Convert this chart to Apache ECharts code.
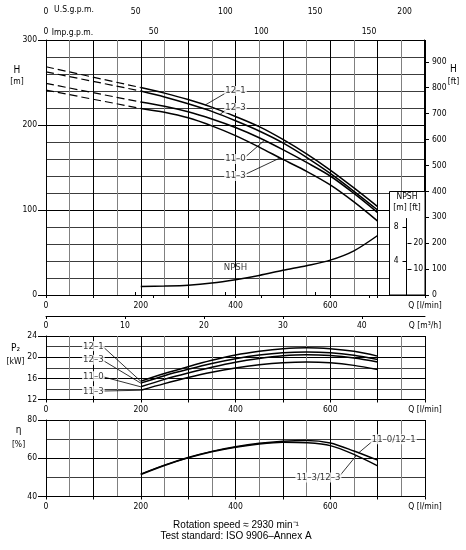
<!DOCTYPE html>
<html>
<head>
<meta charset="utf-8">
<script src="https://cdn.jsdelivr.net/npm/echarts@6/dist/echarts.min.js"></script>
<style>
html, body { margin: 0; padding: 0; background: #fff; }
#chart { width: 466px; height: 550px; }
</style>
</head>
<body>
<div id="chart"></div>
<script>
// flow points (l/min) of the measured curves
var flow = [200, 250, 300, 350, 400, 450, 500, 550, 600, 650, 700];

// head H [m]
var head121 = [244, 237.5, 230, 221, 210, 198, 183, 166, 147, 126, 104];
var head123 = [240, 233, 225, 216, 205, 193, 179, 162, 143, 122, 100];
var head110 = [227, 222, 215.5, 207, 197, 185, 171, 156, 140, 119.5, 97];
var head113 = [219.5, 215, 208.5, 199, 187.5, 174, 159.5, 145.5, 129.5, 109.5, 87];
// dashed part: head at Q = 0 (joins the first point above)
var headAtZero = [268.5, 262.5, 249, 241];

// NPSH [m]
var npsh = [1.0, 1.05, 1.15, 1.4, 1.8, 2.3, 2.9, 3.45, 4.1, 5.2, 7.0];

// power P2 [kW]
var p2_121 = [15.45, 16.9, 18.2, 19.4, 20.4, 21.1, 21.6, 21.8, 21.6, 21.1, 20.2];
var p2_123 = [15.1, 16.5, 17.7, 18.8, 19.7, 20.4, 20.85, 21.0, 20.85, 20.35, 19.55];
var p2_110 = [14.4, 15.8, 17.0, 18.1, 19.05, 19.75, 20.25, 20.45, 20.3, 19.85, 19.1];
var p2_113 = [13.75, 15.0, 16.15, 17.15, 17.95, 18.55, 18.95, 19.1, 18.95, 18.45, 17.65];

// efficiency [%]
var etaUpper = [51.7, 56.4, 60.4, 63.6, 66.0, 67.8, 68.9, 69.3, 68.0, 63.8, 59.0];
var etaLower = [51.5, 56.2, 60.2, 63.4, 65.8, 67.5, 68.4, 68.1, 66.6, 62.0, 56.0];

// tick labels
var flowLabels = [0, 200, 400, 600];
var hLabels = [0, 100, 200, 300];
var ftLabels = [0, 100, 200, 300, 400, 500, 600, 700, 800, 900];
var usgpmLabels = [0, 50, 100, 150, 200];
var impLabels = [0, 50, 100, 150];
var m3hLabels = [0, 10, 20, 30, 40];
var p2Labels = [12, 16, 20, 24];
var etaLabels = [40, 60, 80];
var npshMLabels = [4, 8];
var npshFtLabels = [10, 20];

// unit factors
var L_PER_USGAL = 3.785411784, L_PER_IMPGAL = 4.54609, M_PER_FT = 0.3048;
var QMAX = 800;

var FONT = "'Liberation Sans Narrow', 'DejaVu Sans Condensed', sans-serif";

function zip(xs, ys) {
    var out = [];
    for (var i = 0; i < xs.length; i++) out.push([xs[i], ys[i]]);
    return out;
}
// value of a curve at q (only used to end the leader lines on the curve)
function curveAt(ys, q) {
    for (var i = 0; i < flow.length - 1; i++) {
        if (q >= flow[i] && q <= flow[i + 1]) {
            var t = (q - flow[i]) / (flow[i + 1] - flow[i]);
            return ys[i] + t * (ys[i + 1] - ys[i]);
        }
    }
    return ys[ys.length - 1];
}

function axisLabel(values, margin, fmt, extra) {
    var l = { customValues: values, margin: margin, fontFamily: FONT, fontSize: 8.5, color: '#000' };
    if (fmt) l.formatter = fmt;
    for (var k in extra || {}) l[k] = extra[k];
    return l;
}
function flowAxis(g) {
    return {
        type: 'value', gridIndex: g, min: 0, max: QMAX, interval: 100, position: 'bottom',
        axisLine: { show: true, onZero: false, lineStyle: { color: '#000', width: 1 } },
        axisTick: { show: true, length: 3, lineStyle: { color: '#000' } },
        axisLabel: axisLabel(flowLabels.concat([QMAX]), 6, function (v) { return v === QMAX ? 'Q [l/min]' : v; }),
        splitLine: { show: true, lineStyle: { color: '#000', width: 1 } },
        minorTick: { show: false, splitNumber: 2 },
        minorSplitLine: { show: true, lineStyle: { color: '#808080', width: 1 } }
    };
}
function valueAxis(g, min, max, interval, labels, minorSplit) {
    return {
        type: 'value', gridIndex: g, min: min, max: max, interval: interval, position: 'left',
        axisLine: { show: true, onZero: false, lineStyle: { color: '#000', width: 1 } },
        axisTick: { show: true, length: 8, lineStyle: { color: '#000' } },
        axisLabel: axisLabel(labels, 9),
        splitLine: { show: true, lineStyle: { color: '#000', width: 1 } },
        minorTick: { show: false, splitNumber: minorSplit },
        minorSplitLine: { show: true, lineStyle: { color: '#3c3c3c', width: 1 } }
    };
}

function curve(name, xi, yi, ys) {
    return {
        type: 'line', name: name, xAxisIndex: xi, yAxisIndex: yi, data: zip(flow, ys),
        showSymbol: false, smooth: 0.3, silent: true, z: 3,
        lineStyle: { color: '#000', width: 1.5 }
    };
}
function dashed(xi, yi, y0, y1) {
    return {
        type: 'line', xAxisIndex: xi, yAxisIndex: yi, data: [[0, y0], [flow[0], y1]],
        showSymbol: false, silent: true, z: 3,
        lineStyle: { color: '#000', width: 1.2, type: [8, 4] }
    };
}
// label with white background plus a thin leader to the curve
function note(xi, yi, text, at, from, ys, q, bg) {
    var list = [];
    if (ys) {
        list.push({
            type: 'line', xAxisIndex: xi, yAxisIndex: yi, silent: true, z: 4,
            data: [from, [q, curveAt(ys, q)]], showSymbol: false,
            lineStyle: { color: '#000', width: 0.8 }
        });
    }
    list.push({
        type: 'scatter', xAxisIndex: xi, yAxisIndex: yi, silent: true, z: 5,
        symbolSize: 1, itemStyle: { color: 'rgba(0,0,0,0)' },
        data: [at],
        label: {
            show: true, position: 'inside', formatter: text,
            fontFamily: FONT, fontSize: 9.5, color: '#000',
            backgroundColor: bg === false ? 'transparent' : '#fff', padding: [0, 1]
        }
    });
    return list;
}

var series = [
    curve('12–1', 0, 0, head121), curve('12–3', 0, 0, head123),
    curve('11–0', 0, 0, head110), curve('11–3', 0, 0, head113),
    dashed(0, 0, headAtZero[0], head121[0]), dashed(0, 0, headAtZero[1], head123[0]),
    dashed(0, 0, headAtZero[2], head110[0]), dashed(0, 0, headAtZero[3], head113[0]),
    curve('NPSH', 0, 6, npsh),
    curve('12–1', 3, 2, p2_121), curve('12–3', 3, 2, p2_123),
    curve('11–0', 3, 2, p2_110), curve('11–3', 3, 2, p2_113),
    curve('11–0/12–1', 5, 3, etaUpper), curve('11–3/12–3', 5, 3, etaLower)
];
series = series
    .concat(note(0, 0, '12–1', [400, 240], [382, 238.5], head121, 336))
    .concat(note(0, 0, '12–3', [400, 220], [382, 219], head123, 367))
    .concat(note(0, 0, '11–0', [400, 160], [419, 161.5], head110, 461))
    .concat(note(0, 0, '11–3', [400, 140], [419, 141.5], head113, 494))
    .concat(note(0, 0, 'NPSH', [400, 32], null, null, 0, false))
    .concat(note(3, 2, '12–1', [100, 22.1], [120, 22.0], p2_121, 200))
    .concat(note(3, 2, '12–3', [100, 19.5], [120, 19.4], p2_123, 200))
    .concat(note(3, 2, '11–0', [100, 16.4], [120, 16.3], p2_110, 200))
    .concat(note(3, 2, '11–3', [100, 13.6], [120, 13.6], p2_113, 200))
    .concat(note(5, 3, '11–0/12–1', [734, 70], [692, 69.5], etaUpper, 660))
    .concat(note(5, 3, '11–3/12–3', [575, 50], [619, 50.5], etaLower, 655));

function text(x, y, s, size, font) {
    return {
        type: 'text', x: x, y: y, z: 30, silent: true,
        style: { text: s, fill: '#000', font: (size || 9) + 'px ' + (font || FONT), align: 'center', verticalAlign: 'middle' }
    };
}

var option = {
    animation: false,
    backgroundColor: '#fff',
    grid: [
        { left: 46, top: 40, width: 379, height: 255, outerBoundsMode: 'none' },
        { left: 46, top: 336, width: 379, height: 63.5, outerBoundsMode: 'none' },
        { left: 46, top: 420, width: 379, height: 76.5, outerBoundsMode: 'none' },
        // thin grid that only carries the NPSH scale inside the box
        { left: 406.5, top: 218.5, width: 1, height: 76.5, outerBoundsMode: 'none' },
        // grid for the feet scale on the right of the H chart
        { left: 424, top: 40, width: 1, height: 255, outerBoundsMode: 'none' }
    ],
    xAxis: [
        flowAxis(0),
        {   // U.S. gallons per minute, ticks and labels above the line
            type: 'value', gridIndex: 0, position: 'top', offset: 19, min: 0, max: QMAX / L_PER_USGAL,
            axisLine: { show: true, lineStyle: { color: '#000' } },
            axisTick: { show: true, customValues: usgpmLabels, length: 3, lineStyle: { color: '#000' } },
            axisLabel: axisLabel(usgpmLabels, 5),
            splitLine: { show: false }
        },
        {   // imperial gallons per minute, ticks and labels below the line
            type: 'value', gridIndex: 0, position: 'top', offset: 19, min: 0, max: QMAX / L_PER_IMPGAL,
            axisLine: { show: false },
            axisTick: { show: true, inside: true, customValues: impLabels, length: 3, lineStyle: { color: '#000' } },
            axisLabel: axisLabel(impLabels, 6, null, { inside: true }),
            splitLine: { show: false }
        },
        flowAxis(1),
        {   // m3/h
            type: 'value', gridIndex: 1, position: 'top', offset: 20, min: 0, max: QMAX * 0.06,
            axisLine: { show: true, lineStyle: { color: '#000' } },
            axisTick: { show: true, inside: true, customValues: m3hLabels, length: 3, lineStyle: { color: '#000' } },
            axisLabel: axisLabel(m3hLabels.concat([QMAX * 0.06]), 5,
                function (v) { return v === QMAX * 0.06 ? 'Q [m³/h]' : v; }, { inside: true }),
            splitLine: { show: false }
        },
        flowAxis(2),
        { type: 'value', gridIndex: 3, show: false, min: 0, max: 1 },
        { type: 'value', gridIndex: 4, show: false, min: 0, max: 1 }
    ],
    yAxis: [
        valueAxis(0, 0, 300, 100, hLabels, 5),
        {   // H in feet, on its own thin grid at the right edge
            type: 'value', gridIndex: 4, position: 'right', min: 0, max: 300 / M_PER_FT,
            axisLine: { show: true, lineStyle: { color: '#000' } },
            axisTick: { show: true, customValues: ftLabels, length: 5, lineStyle: { color: '#000' } },
            axisLabel: axisLabel(ftLabels, 7),
            splitLine: { show: false }
        },
        valueAxis(1, 12, 24, 4, p2Labels, 2),
        valueAxis(2, 40, 80, 20, etaLabels, 2),
        {   // NPSH [m]
            type: 'value', gridIndex: 3, position: 'left', min: 0, max: 9, z: 40,
            axisLine: { show: true, lineStyle: { color: '#000' } },
            axisTick: { show: true, customValues: npshMLabels, length: 4, lineStyle: { color: '#000' } },
            axisLabel: axisLabel(npshMLabels, 8),
            splitLine: { show: false }
        },
        {   // NPSH [ft]
            type: 'value', gridIndex: 3, position: 'right', min: 0, max: 9 / M_PER_FT, z: 40,
            axisLine: { show: false },
            axisTick: { show: true, customValues: npshFtLabels, length: 4, lineStyle: { color: '#000' } },
            axisLabel: axisLabel(npshFtLabels, 6),
            splitLine: { show: false }
        },
        // hidden NPSH scale over the whole H chart (300 m of H = 30 m of NPSH)
        { type: 'value', gridIndex: 0, show: false, position: 'right', min: 0, max: 30,
          axisLine: { show: false }, axisTick: { show: false }, axisLabel: { show: false },
          splitLine: { show: false } }
    ],
    series: series,
    graphic: [
        { type: 'rect', z: 20, silent: true,
          shape: { x: 389.5, y: 191.5, width: 35.5, height: 103.5 },
          style: { fill: '#fff', stroke: '#000', lineWidth: 1 } },
        text(407, 197, 'NPSH', 8.5),
        text(407, 207.5, '[m] [ft]', 8.5),
        text(17, 70, 'H', 10), text(17, 81.5, '[m]', 8.5),
        text(453.5, 69.5, 'H', 10), text(453.5, 81.5, '[ft]', 8.5),
        text(15.5, 348.5, 'P₂', 10, "'DejaVu Sans Condensed', sans-serif"), text(15.5, 362, '[kW]', 8.5),
        text(18.5, 430, 'η', 10, "'DejaVu Sans Condensed', sans-serif"), text(18.5, 444.5, '[%]', 8.5),
        text(74, 10, 'U.S.g.p.m.', 8.5),
        text(72.5, 33, 'Imp.g.p.m.', 8.5),
        text(236, 525, 'Rotation speed ≈ 2930 min⁻¹', 10, "'Liberation Sans', Arial, sans-serif"),
        text(236, 536.5, 'Test standard: ISO 9906–Annex A', 10, "'Liberation Sans', Arial, sans-serif")
    ]
};

var chart = echarts.init(document.getElementById('chart'), null, { renderer: 'canvas' });
chart.setOption(option);
</script>
</body>
</html>
